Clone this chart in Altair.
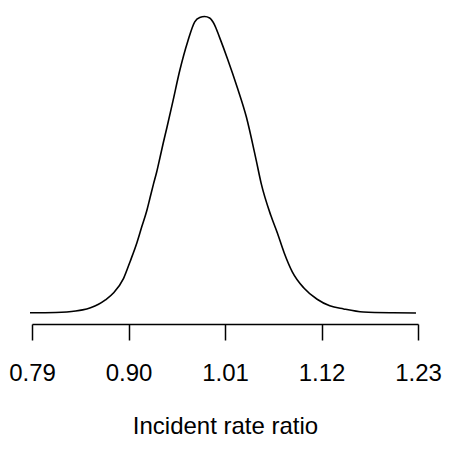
import altair as alt
import pandas as pd

# Values (incident rate ratio vs. estimated density)
irr = [0.7877, 0.8171, 0.8398, 0.8477, 0.8567, 0.8658, 0.8737, 0.8831, 0.8944,
       0.9020, 0.9096, 0.9152, 0.9209, 0.9246, 0.9283, 0.9322, 0.9359, 0.9396,
       0.9438, 0.9506, 0.9585, 0.9676, 0.9755, 0.9812, 0.9868, 0.9925, 0.9981,
       1.0038, 1.0128, 1.0241, 1.0343, 1.0456, 1.0513, 1.0623, 1.0697, 1.0773,
       1.0867, 1.0999, 1.1150, 1.1294, 1.1452, 1.1678, 1.2017, 1.2277]
density = [0.005, 0.014, 0.054, 0.087, 0.149, 0.244, 0.366, 0.564, 0.970,
           1.450, 1.965, 2.417, 2.867, 3.230, 3.591, 3.951, 4.350, 4.756,
           5.190, 5.921, 6.789, 7.602, 8.144, 8.266, 8.293, 8.252, 8.062,
           7.710, 7.114, 6.301, 5.488, 4.268, 3.618, 2.724, 2.236, 1.694,
           1.152, 0.699, 0.385, 0.203, 0.114, 0.027, 0.005, 0.0]
tick_values = [0.79, 0.90, 1.01, 1.12, 1.23]

df = pd.DataFrame({"irr": irr, "density": density})

FONT = "Liberation Sans"

chart = alt.Chart(df).mark_line(color="black", strokeWidth=1.6, interpolate="monotone").encode(
    x=alt.X("irr:Q",
            scale=alt.Scale(domain=[0.79, 1.23], nice=False, zero=False),
            axis=alt.Axis(values=tick_values, format=".2f", title="Incident rate ratio",
                          offset=11, tickSize=16, labelPadding=40, labelBaseline="alphabetic",
                          labelFont=FONT, labelFontSize=24, labelColor="black",
                          titleFont=FONT, titleFontSize=24, titleFontWeight="normal",
                          titleColor="black", titleBaseline="alphabetic", titleY=109,
                          domainColor="black", domainWidth=1.5, tickColor="black", tickWidth=1.5,
                          grid=False, labelFlush=False, labelOverlap=False)),
    y=alt.Y("density:Q", scale=alt.Scale(domain=[0, 8.531], nice=False, zero=False),
            axis=None),
).properties(
    width=386, height=305,
    padding={"left": 24, "top": 0, "right": 24, "bottom": 126},
    autosize=alt.AutoSizeParams(type="none"),
).configure_view(stroke=None)

chart.save("out.html", embed_options={"renderer": "svg", "actions": False})
